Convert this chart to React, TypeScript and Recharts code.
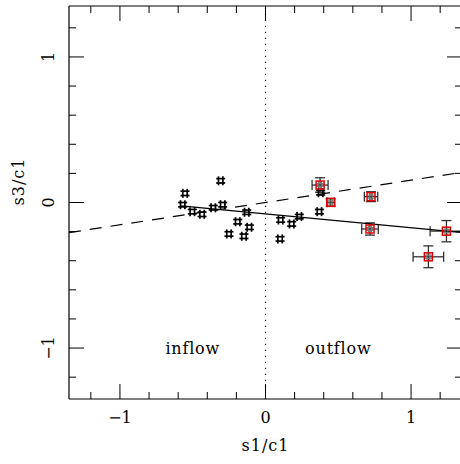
import { ErrorBar, Label, ReferenceLine, Scatter, ScatterChart, XAxis, YAxis } from "recharts";

// tick positions (same on both axes), majors get a label
const axisTicks = [-1.2, -1, -0.8, -0.6, -0.4, -0.2, 0, 0.2, 0.4, 0.6, 0.8, 1, 1.2];
const axisDomain = [-1.35, 1.35];

// plain points (black "#" markers)
const plainX = [
  -0.308, -0.553, -0.569, -0.503, -0.436, -0.359, -0.294, -0.129, -0.191, -0.111, -0.251, -0.148,
  0.104, 0.18, 0.232, 0.1, 0.37, 0.379,
];
const plainY = [
  0.149, 0.063, -0.015, -0.063, -0.081, -0.036, -0.015, -0.067, -0.132, -0.17, -0.216, -0.232,
  -0.12, -0.147, -0.097, -0.25, -0.063, 0.067,
];

// marked points (red boxes) with errors
const markedX = [0.375, 0.448, 0.725, 0.718, 1.243, 1.119];
const markedY = [0.12, 0.001, 0.04, -0.182, -0.197, -0.373];
const markedXErr = [0.055, 0.025, 0.046, 0.057, 0.112, 0.105];
const markedYErr = [0.05, 0.025, 0.034, 0.042, 0.073, 0.075];

// fitted lines, end points
const solidFitX = [-0.58, 1.35];
const solidFitY = [-0.023, -0.206];
const dashedFitX = [-1.35, 1.35];
const dashedFitY = [-0.207, 0.207];

const regionNames = ["inflow", "outflow"];
const regionX = [-0.5, 0.5];
const regionY = [-1.04, -1.04];

const plainPoints = plainX.map((x, i) => ({ x, y: plainY[i] }));
const markedPoints = markedX.map((x, i) => ({ x, y: markedY[i], ex: markedXErr[i], ey: markedYErr[i] }));
const solidFit = solidFitX.map((x, i) => ({ x, y: solidFitY[i] }));
const dashedFit = dashedFitX.map((x, i) => ({ x, y: dashedFitY[i] }));
const regions = regionNames.map((name, i) => ({ name, x: regionX[i], y: regionY[i] }));

const FONT = "DejaVu Serif";
const isMajor = (v: number) => Math.abs(v - Math.round(v)) < 1e-6;
const fmt = (v: number) => (Math.round(v) < 0 ? "\u2212" : "") + Math.abs(Math.round(v));
const tickLen = (v: number) => (isMajor(v) ? 15 : 7);

function BottomTick({ x, y, payload }: any) {
  const v = payload.value;
  return (
    <g>
      <line x1={x} x2={x} y1={y} y2={y - tickLen(v)} stroke="#000" />
      {isMajor(v) && (
        <text x={x} y={y + 24} textAnchor="middle" fontFamily={FONT} fontSize={16} fill="#000">
          {fmt(v)}
        </text>
      )}
    </g>
  );
}

function TopTick({ x, y, payload }: any) {
  return <line x1={x} x2={x} y1={y} y2={y + tickLen(payload.value)} stroke="#000" />;
}

function LeftTick({ x, y, payload }: any) {
  const v = payload.value;
  const tx = x - 15;
  return (
    <g>
      <line x1={x} x2={x + tickLen(v)} y1={y} y2={y} stroke="#000" />
      {isMajor(v) && (
        <text
          x={tx}
          y={y}
          transform={`rotate(-90 ${tx} ${y})`}
          textAnchor="middle"
          fontFamily={FONT}
          fontSize={16}
          fill="#000"
        >
          {fmt(v)}
        </text>
      )}
    </g>
  );
}

function RightTick({ x, y, payload }: any) {
  return <line x1={x} x2={x - tickLen(payload.value)} y1={y} y2={y} stroke="#000" />;
}

function Hash({ cx, cy }: any) {
  return (
    <g stroke="#000" strokeWidth={1.7}>
      <line x1={cx - 2.2} x2={cx - 2.2} y1={cy - 4.5} y2={cy + 4.5} />
      <line x1={cx + 2.2} x2={cx + 2.2} y1={cy - 4.5} y2={cy + 4.5} />
      <line x1={cx - 4.5} x2={cx + 4.5} y1={cy - 2.2} y2={cy - 2.2} />
      <line x1={cx - 4.5} x2={cx + 4.5} y1={cy + 2.2} y2={cy + 2.2} />
    </g>
  );
}

function RedBox({ cx, cy }: any) {
  return (
    <g>
      <g stroke="#777" strokeWidth={1}>
        <line x1={cx - 1.5} x2={cx - 1.5} y1={cy - 3.5} y2={cy + 3.5} />
        <line x1={cx + 1.5} x2={cx + 1.5} y1={cy - 3.5} y2={cy + 3.5} />
        <line x1={cx - 3.5} x2={cx + 3.5} y1={cy - 1.5} y2={cy - 1.5} />
        <line x1={cx - 3.5} x2={cx + 3.5} y1={cy + 1.5} y2={cy + 1.5} />
      </g>
      <rect x={cx - 4} y={cy - 4} width={8} height={8} fill="none" stroke="#e00000" strokeWidth={1.5} />
    </g>
  );
}

function RegionText({ cx, cy, payload }: any) {
  return (
    <text x={cx} y={cy} textAnchor="middle" fontFamily={FONT} fontSize={16} letterSpacing={0.8} fill="#000">
      {payload.name}
    </text>
  );
}

export default function App() {
  return (
    <div style={{ position: "absolute", left: 0, top: 0, width: 460, height: 464, overflow: "hidden", background: "#fff" }}>
      <ScatterChart width={470} height={464} margin={{ top: 5, right: 7, bottom: 64, left: 68 }}>
        <XAxis
          dataKey="x"
          type="number"
          domain={axisDomain}
          allowDataOverflow
          ticks={axisTicks}
          interval={0}
          height={1}
          tickSize={0}
          tickMargin={0}
          tickLine={false}
          tick={BottomTick}
          axisLine={{ stroke: "#000", strokeWidth: 1.2 }}
        >
          <Label
            content={({ viewBox }: any) => (
              <text
                x={viewBox.x + viewBox.width / 2}
                y={viewBox.y + 52}
                textAnchor="middle"
                fontFamily={FONT}
                fontSize={16}
                letterSpacing={1}
                fill="#000"
              >
                s1/c1
              </text>
            )}
          />
        </XAxis>
        <XAxis
          xAxisId="top"
          orientation="top"
          dataKey="x"
          type="number"
          domain={axisDomain}
          allowDataOverflow
          ticks={axisTicks}
          interval={0}
          height={1}
          tickSize={0}
          tickMargin={0}
          tickLine={false}
          tick={TopTick}
          axisLine={{ stroke: "#000", strokeWidth: 1.2 }}
        />
        <YAxis
          dataKey="y"
          type="number"
          domain={axisDomain}
          allowDataOverflow
          ticks={axisTicks}
          interval={0}
          width={1}
          tickSize={0}
          tickMargin={0}
          tickLine={false}
          tick={LeftTick}
          axisLine={{ stroke: "#000", strokeWidth: 1.2 }}
        >
          <Label
            content={({ viewBox }: any) => {
              const lx = viewBox.x + viewBox.width - 45;
              const ly = viewBox.y + viewBox.height / 2 - 21;
              return (
                <text
                  x={lx}
                  y={ly}
                  transform={`rotate(-90 ${lx} ${ly})`}
                  textAnchor="middle"
                  fontFamily={FONT}
                  fontSize={16}
                  letterSpacing={1}
                  fill="#000"
                >
                  s3/c1
                </text>
              );
            }}
          />
        </YAxis>
        <YAxis
          yAxisId="right"
          orientation="right"
          dataKey="y"
          type="number"
          domain={axisDomain}
          allowDataOverflow
          ticks={axisTicks}
          interval={0}
          width={1}
          tickSize={0}
          tickMargin={0}
          tickLine={false}
          tick={RightTick}
          axisLine={{ stroke: "#000", strokeWidth: 1.2 }}
        />

        <ReferenceLine x={0} stroke="#000" strokeWidth={1.2} strokeDasharray="1.2 4.8" />

        <Scatter
          data={dashedFit}
          line={{ stroke: "#000", strokeWidth: 1.2, strokeDasharray: "12 9" }}
          shape={() => <g />}
          isAnimationActive={false}
        />
        <Scatter
          data={solidFit}
          line={{ stroke: "#000", strokeWidth: 1.3 }}
          shape={() => <g />}
          isAnimationActive={false}
        />
        <Scatter data={plainPoints} shape={Hash} isAnimationActive={false} />
        <Scatter data={markedPoints} shape={RedBox} isAnimationActive={false}>
          <ErrorBar dataKey="ex" direction="x" width={5} stroke="#333" strokeWidth={1.3} />
          <ErrorBar dataKey="ey" direction="y" width={5} stroke="#333" strokeWidth={1.3} />
        </Scatter>
        <Scatter data={regions} shape={RegionText} isAnimationActive={false} />
      </ScatterChart>
    </div>
  );
}
